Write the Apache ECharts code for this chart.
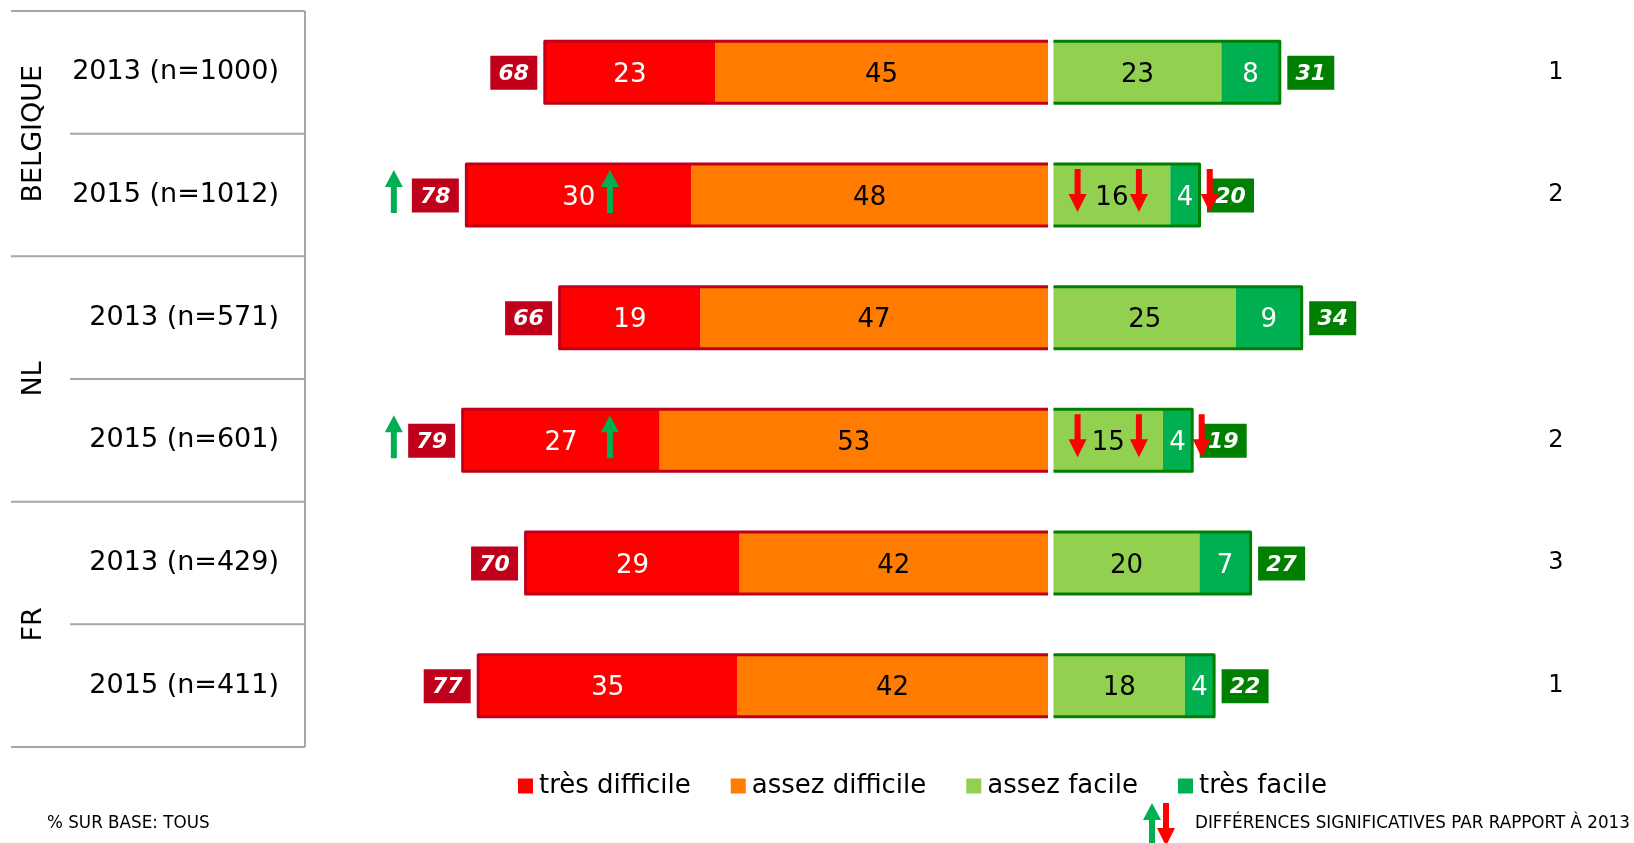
<!DOCTYPE html>
<html>
<head>
<meta charset="utf-8">
<script src="https://cdn.jsdelivr.net/npm/echarts@6/dist/echarts.min.js"></script>
<style>
  html, body { margin: 0; padding: 0; background: #fff; }
  #chart { width: 1634px; height: 843px; }
</style>
</head>
<body>
<div id="chart"></div>
<script>
// rows, top to bottom
const rowLabels = ['2013 (n=1000)', '2015 (n=1012)', '2013 (n=571)', '2015 (n=601)', '2013 (n=429)', '2015 (n=411)'];
const groupLabels = ['BELGIQUE', 'NL', 'FR'];
const tresDifficile = [23, 30.4, 19, 26.6, 28.9, 35];
const assezDifficile = [45, 48.2, 47, 52.5, 41.7, 42];
const assezFacile = [23, 16, 25, 15, 20, 18];
const tresFacile = [8, 4, 9, 4, 7, 4];
const totalDifficile = [68, 78, 66, 79, 70, 77];
const totalFacile = [31, 20, 34, 19, 27, 22];
const notes = ['1', '2', '', '2', '3', '1'];
// significant differences: [row, distance from centre]
const arrowsUp = [[1, 88.4], [1, 59.2], [3, 88.4], [3, 59.2]];
const arrowsDown = [[1, 3.3], [1, 11.7], [1, 21.4], [3, 3.3], [3, 11.7], [3, 20.3]];

const FONT = '"DejaVu Sans", Verdana, sans-serif';
const TOP = 11, BOTTOM = 747;
const CENTER_L = 1048, CENTER_R = 1053.5;
const UNIT_L = 7.4, UNIT_R = 7.3;
const LEFT_MAX = 90, RIGHT_MAX = 60;
const BAR_H = 62;
const RED = '#FF0000', ORANGE = '#FF7C00', LGREEN = '#92D050', DGREEN = '#00B050';
const DARKRED = '#C0001A', DARKGREEN = '#008000';

const chart = echarts.init(document.getElementById('chart'));

function outlineItem(side, stroke, boxFill) {
  return function (params, api) {
    const y = api.value(0), v = api.value(1), total = api.value(2);
    const p0 = api.coord([0, y]);
    const p1 = api.coord([v, y]);
    const h = BAR_H / 2;
    const bx = side < 0 ? p1[0] - 7.5 - 47 : p1[0] + 7.5;
    return {
      type: 'group',
      children: [
        { type: 'polyline', shape: { points: [[p0[0], p0[1] - h], [p1[0], p1[1] - h], [p1[0], p1[1] + h], [p0[0], p0[1] + h]] },
          style: { stroke: stroke, lineWidth: 3, fill: 'none', lineJoin: 'round' } },
        { type: 'rect', shape: { x: bx, y: p1[1] - 16.5, width: 47, height: 34 }, style: { fill: boxFill } },
        { type: 'text', style: { text: String(total), x: bx + 23.5, y: p1[1] + 2, align: 'center', verticalAlign: 'middle',
          fill: '#fff', font: 'italic bold 22px ' + FONT } }
      ]
    };
  };
}

function arrowItem(dir, color) {
  return function (params, api) {
    const p = api.coord([api.value(1), api.value(0)]);
    const x = p[0], cy = p[1];
    let pts;
    if (dir > 0) {
      const t = cy - 25, b = cy + 18, hb = t + 17;
      pts = [[x, t], [x + 9, hb], [x + 3, hb], [x + 3, b], [x - 3, b], [x - 3, hb], [x - 9, hb]];
    } else {
      const t = cy - 26, tip = cy + 17, hs = tip - 18;
      pts = [[x - 3, t], [x + 3, t], [x + 3, hs], [x + 9, hs], [x, tip], [x - 9, hs], [x - 3, hs]];
    }
    return { type: 'polygon', shape: { points: pts }, style: { fill: color } };
  };
}

function segLabel(color) {
  return { show: true, position: 'inside', offset: [0, 3], color: color, fontSize: 26, fontFamily: FONT,
    formatter: p => Math.round(p.value) };
}

const rowH = (BOTTOM - TOP) / 6;
const lineStyle = { stroke: '#A6A6A6', lineWidth: 2 };
const tableLines = [];
for (let i = 0; i <= 6; i++) {
  const y = TOP + i * rowH;
  const x0 = i % 2 === 0 ? 11 : 70;
  tableLines.push({ type: 'line', shape: { x1: x0, y1: y, x2: 305, y2: y }, style: lineStyle });
}
tableLines.push({ type: 'line', shape: { x1: 305, y1: TOP, x2: 305, y2: BOTTOM }, style: lineStyle });

const leftGridX = CENTER_L - LEFT_MAX * UNIT_L;
const rightGridEnd = CENTER_R + RIGHT_MAX * UNIT_R;

const option = {
  animation: false,
  textStyle: { fontFamily: FONT },
  grid: [
    { left: leftGridX, width: LEFT_MAX * UNIT_L, top: TOP, height: BOTTOM - TOP },
    { left: CENTER_R, width: RIGHT_MAX * UNIT_R, top: TOP, height: BOTTOM - TOP }
  ],
  xAxis: [
    { gridIndex: 0, type: 'value', min: 0, max: LEFT_MAX, inverse: true, show: false },
    { gridIndex: 1, type: 'value', min: 0, max: RIGHT_MAX, show: false }
  ],
  yAxis: [
    { gridIndex: 0, type: 'category', data: rowLabels, inverse: true, position: 'left',
      axisLine: { show: false }, axisTick: { show: false },
      axisLabel: { margin: leftGridX - 279, fontSize: 27, color: '#000', fontFamily: FONT, padding: [10, 0, 0, 0] } },
    { gridIndex: 0, type: 'category', data: groupLabels, inverse: true, position: 'left',
      axisLine: { show: false }, axisTick: { show: false },
      axisLabel: { rotate: 90, margin: leftGridX - 47, fontSize: 27, color: '#000', fontFamily: FONT } },
    { gridIndex: 1, type: 'category', data: notes, inverse: true, position: 'right',
      axisLine: { show: false }, axisTick: { show: false },
      axisLabel: { margin: 1556 - rightGridEnd, align: 'center', padding: [0, 0, 16, 0],
        fontSize: 24, color: '#000', fontFamily: FONT } }
  ],
  legend: {
    data: ['très difficile', 'assez difficile', 'assez facile', 'très facile'],
    left: 513, top: 768, itemGap: 40, itemWidth: 15, itemHeight: 15, icon: 'rect',
    textStyle: { fontSize: 26, color: '#000', fontFamily: FONT, padding: [0, 0, 0, 1] }
  },
  series: [
    { name: 'assez difficile', type: 'bar', stack: 'left', xAxisIndex: 0, yAxisIndex: 0, barWidth: BAR_H,
      data: assezDifficile, itemStyle: { color: ORANGE }, label: segLabel('#000') },
    { name: 'très difficile', type: 'bar', stack: 'left', xAxisIndex: 0, yAxisIndex: 0, barWidth: BAR_H,
      data: tresDifficile, itemStyle: { color: RED }, label: segLabel('#fff') },
    { name: 'assez facile', type: 'bar', stack: 'right', xAxisIndex: 1, yAxisIndex: 2, barWidth: BAR_H,
      data: assezFacile, itemStyle: { color: LGREEN }, label: segLabel('#000') },
    { name: 'très facile', type: 'bar', stack: 'right', xAxisIndex: 1, yAxisIndex: 2, barWidth: BAR_H,
      data: tresFacile, itemStyle: { color: DGREEN }, label: segLabel('#fff') },
    { type: 'custom', xAxisIndex: 0, yAxisIndex: 0, z: 5, encode: { x: 1, y: 0 },
      data: rowLabels.map((_, i) => [i, tresDifficile[i] + assezDifficile[i], totalDifficile[i]]),
      renderItem: outlineItem(-1, DARKRED, DARKRED) },
    { type: 'custom', xAxisIndex: 1, yAxisIndex: 2, z: 5, encode: { x: 1, y: 0 },
      data: rowLabels.map((_, i) => [i, assezFacile[i] + tresFacile[i], totalFacile[i]]),
      renderItem: outlineItem(1, DARKGREEN, DARKGREEN) },
    { type: 'custom', xAxisIndex: 0, yAxisIndex: 0, z: 6, encode: { x: 1, y: 0 },
      data: arrowsUp, renderItem: arrowItem(1, DGREEN) },
    { type: 'custom', xAxisIndex: 1, yAxisIndex: 2, z: 6, encode: { x: 1, y: 0 },
      data: arrowsDown, renderItem: arrowItem(-1, RED) }
  ],
  graphic: tableLines.concat([
    { type: 'text', left: 47, top: 815, style: { text: '% SUR BASE: TOUS', font: '16.75px ' + FONT, fill: '#000' } },
    { type: 'text', left: 1195, top: 815, style: { text: 'DIFFÉRENCES SIGNIFICATIVES PAR RAPPORT À 2013', font: '16.75px ' + FONT, fill: '#000' } },
    { type: 'polygon', shape: { points: [[1152, 803], [1161, 820], [1155, 820], [1155, 850], [1149, 850], [1149, 820], [1143, 820]] }, style: { fill: DGREEN } },
    { type: 'polygon', shape: { points: [[1163, 803], [1169, 803], [1169, 828], [1175, 828], [1166, 846], [1157, 828], [1163, 828]] }, style: { fill: RED } }
  ])
};

chart.setOption(option);
</script>
</body>
</html>
